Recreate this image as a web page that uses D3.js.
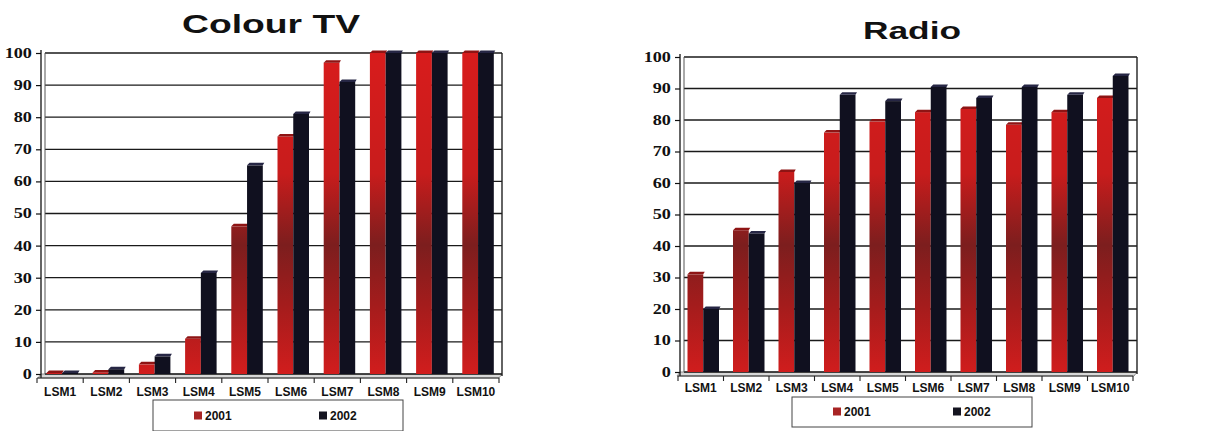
<!DOCTYPE html>
<html>
<head>
<meta charset="utf-8">
<script src="https://cdn.jsdelivr.net/npm/d3@7"></script>
<style>
  body { margin: 0; background: #fff; }
  svg { display: block; }
</style>
</head>
<body>
<svg id="chart" width="1229" height="431"></svg>
<script>
// Ownership by living-standards group, 2001 vs 2002 (%)
const categories = ["LSM1", "LSM2", "LSM3", "LSM4", "LSM5", "LSM6", "LSM7", "LSM8", "LSM9", "LSM10"];
const seriesNames = ["2001", "2002"];
const colourTv2001 = [0.3, 0.5, 3, 11, 46, 74, 97, 100, 100, 100];
const colourTv2002 = [0.3, 1.5, 5.5, 31.5, 65, 81, 91, 100, 100, 100];
const radio2001 = [31, 45, 63.5, 76, 79.5, 82.5, 83.5, 78.5, 82.5, 87];
const radio2002 = [20, 44, 60, 88, 86, 90.5, 87, 90.5, 88, 94];
const yTickValues = [0, 10, 20, 30, 40, 50, 60, 70, 80, 90, 100];

const seriesColor = { "2001": "url(#redFill)", "2002": "#10101f" };
const capColor = { "2001": "#8e1414", "2002": "#262644" };
const swatchColor = { "2001": "#a82424", "2002": "#141420" };

const svg = d3.select("#chart");
const defs = svg.append("defs");

// red columns darken through the middle of the plot
function addRedGradient(id, yTop, yBottom) {
  const g = defs.append("linearGradient")
    .attr("id", id)
    .attr("gradientUnits", "userSpaceOnUse")
    .attr("x1", 0).attr("x2", 0)
    .attr("y1", yTop).attr("y2", yBottom);
  [[0, "#d81c1c"], [0.38, "#c81c1c"], [0.6, "#7c1e1e"], [0.78, "#a31c1c"], [1, "#d21d1d"]]
    .forEach(([o, c]) => g.append("stop").attr("offset", o).attr("stop-color", c));
}
addRedGradient("redFill", 50, 375);

const panels = [
  {
    title: "Colour TV", titleX: 271, titleY: 33, titleSize: 25, titleWidth: 178,
    values: [colourTv2001, colourTv2002],
    axisX: 41, rightX: 502, y0: 374, y100: 53,
    bandRange: [37, 499], labelY: 392,
    legend: { x: 153, y: 400, w: 250, h: 31, items: [194, 319], textY: 416 }
  },
  {
    title: "Radio", titleX: 912, titleY: 39, titleSize: 24, titleWidth: 98,
    values: [radio2001, radio2002],
    axisX: 680, rightX: 1137, y0: 372, y100: 57,
    bandRange: [678, 1133], labelY: 388,
    legend: { x: 792, y: 397, w: 240, h: 30, items: [833, 953], textY: 412 }
  }
];

panels.forEach(drawPanel);

function drawPanel(p) {
  const g = svg.append("g");
  const y = d3.scaleLinear().domain([0, 100]).range([p.y0, p.y100]);
  const x0 = d3.scaleBand().domain(categories).range(p.bandRange);
  const x1 = d3.scaleBand().domain(seriesNames).range([9.5, 41]);

  // title
  g.append("text")
    .attr("x", p.titleX).attr("y", p.titleY)
    .attr("text-anchor", "middle")
    .attr("textLength", p.titleWidth)
    .attr("lengthAdjust", "spacingAndGlyphs")
    .style("font-family", "'Liberation Sans', Arial, sans-serif")
    .style("font-weight", "bold")
    .style("font-size", p.titleSize + "px")
    .attr("fill", "#111")
    .text(p.title);

  // floor under the columns
  g.append("polygon")
    .attr("points", [
      [p.axisX, y(0)], [p.rightX, y(0)], [p.rightX - 3, y(0) + 4], [p.axisX - 3, y(0) + 4]
    ].map(d => d.join(",")).join(" "))
    .attr("fill", "#d8d8d8").attr("stroke", "#777").attr("stroke-width", 0.8);

  // horizontal gridlines
  g.append("g").selectAll("line").data(yTickValues).join("line")
    .attr("x1", p.axisX + 4).attr("x2", p.rightX)
    .attr("y1", d => y(d)).attr("y2", d => y(d))
    .attr("stroke", "#1a1a1a").attr("stroke-width", 1.3);

  // back wall edges
  g.append("line")
    .attr("x1", p.axisX + 4).attr("x2", p.axisX + 4)
    .attr("y1", y(100)).attr("y2", y(0))
    .attr("stroke", "#555").attr("stroke-width", 1);
  g.append("line")
    .attr("x1", p.rightX).attr("x2", p.rightX)
    .attr("y1", y(100)).attr("y2", y(0) + 2)
    .attr("stroke", "#222").attr("stroke-width", 1.4);

  // columns
  seriesNames.forEach((s, si) => {
    const vals = p.values[si];
    const bars = g.append("g");
    categories.forEach((c, ci) => {
      const v = vals[ci];
      const bx = x0(c) + x1(s);
      const bw = x1.bandwidth();
      const top = y(v);
      bars.append("rect")
        .attr("x", bx).attr("y", top)
        .attr("width", bw).attr("height", y(0) - top)
        .attr("fill", seriesColor[s]);
      bars.append("polygon")
        .attr("points", [
          [bx, top], [bx + 2.5, top - 2.5], [bx + bw + 1.5, top - 2.5], [bx + bw, top]
        ].map(d => d.join(",")).join(" "))
        .attr("fill", capColor[s]);
    });
  });

  // value axis
  const yAxis = g.append("g")
    .attr("transform", `translate(${p.axisX},0)`)
    .call(d3.axisLeft(y).tickValues(yTickValues).tickSize(5).tickPadding(2).tickFormat(d3.format("d")));
  yAxis.select(".domain").attr("stroke", "#111").attr("stroke-width", 1.3)
    .attr("d", `M0,${y(100) - 3}V${y(0) + 4}`);
  yAxis.selectAll(".tick line").attr("stroke", "#111").attr("stroke-width", 1.2);
  yAxis.selectAll(".tick text")
    .attr("transform", "scale(1.3,1)")
    .style("font-family", "'Liberation Serif', 'Times New Roman', serif")
    .style("font-weight", "bold")
    .style("font-size", "14px")
    .attr("fill", "#111");

  // category axis: labels at band centres, ticks at band edges
  const xAxis = g.append("g")
    .attr("transform", `translate(0,${y(0) + 4})`)
    .call(d3.axisBottom(x0).tickSize(0).tickPadding(0));
  xAxis.select(".domain")
    .attr("d", `M${p.bandRange[0]},0H${p.bandRange[1]}`)
    .attr("stroke", "#333").attr("stroke-width", 1);
  xAxis.selectAll(".tick text")
    .attr("y", p.labelY - y(0) - 4)
    .attr("dy", "0.35em")
    .style("font-family", "'Liberation Sans', Arial, sans-serif")
    .style("font-weight", "bold")
    .style("font-size", "12px")
    .attr("fill", "#111");
  const edges = categories.map(c => x0(c)).concat([p.bandRange[1]]);
  xAxis.append("g").selectAll("line").data(edges).join("line")
    .attr("x1", d => d).attr("x2", d => d)
    .attr("y1", 0).attr("y2", 5)
    .attr("stroke", "#222").attr("stroke-width", 1.1);

  // legend
  const L = p.legend;
  const lg = g.append("g");
  lg.append("rect")
    .attr("x", L.x).attr("y", L.y).attr("width", L.w).attr("height", L.h)
    .attr("fill", "#fff").attr("stroke", "#444").attr("stroke-width", 1);
  seriesNames.forEach((s, i) => {
    lg.append("rect")
      .attr("x", L.items[i]).attr("y", L.textY - 4.5)
      .attr("width", 8).attr("height", 8)
      .attr("fill", swatchColor[s]);
    lg.append("text")
      .attr("x", L.items[i] + 11).attr("y", L.textY)
      .attr("dy", "0.35em")
      .style("font-family", "'Liberation Sans', Arial, sans-serif")
      .style("font-weight", "bold")
      .style("font-size", "12px")
      .attr("fill", "#111")
      .text(s);
  });
}
</script>
</body>
</html>
